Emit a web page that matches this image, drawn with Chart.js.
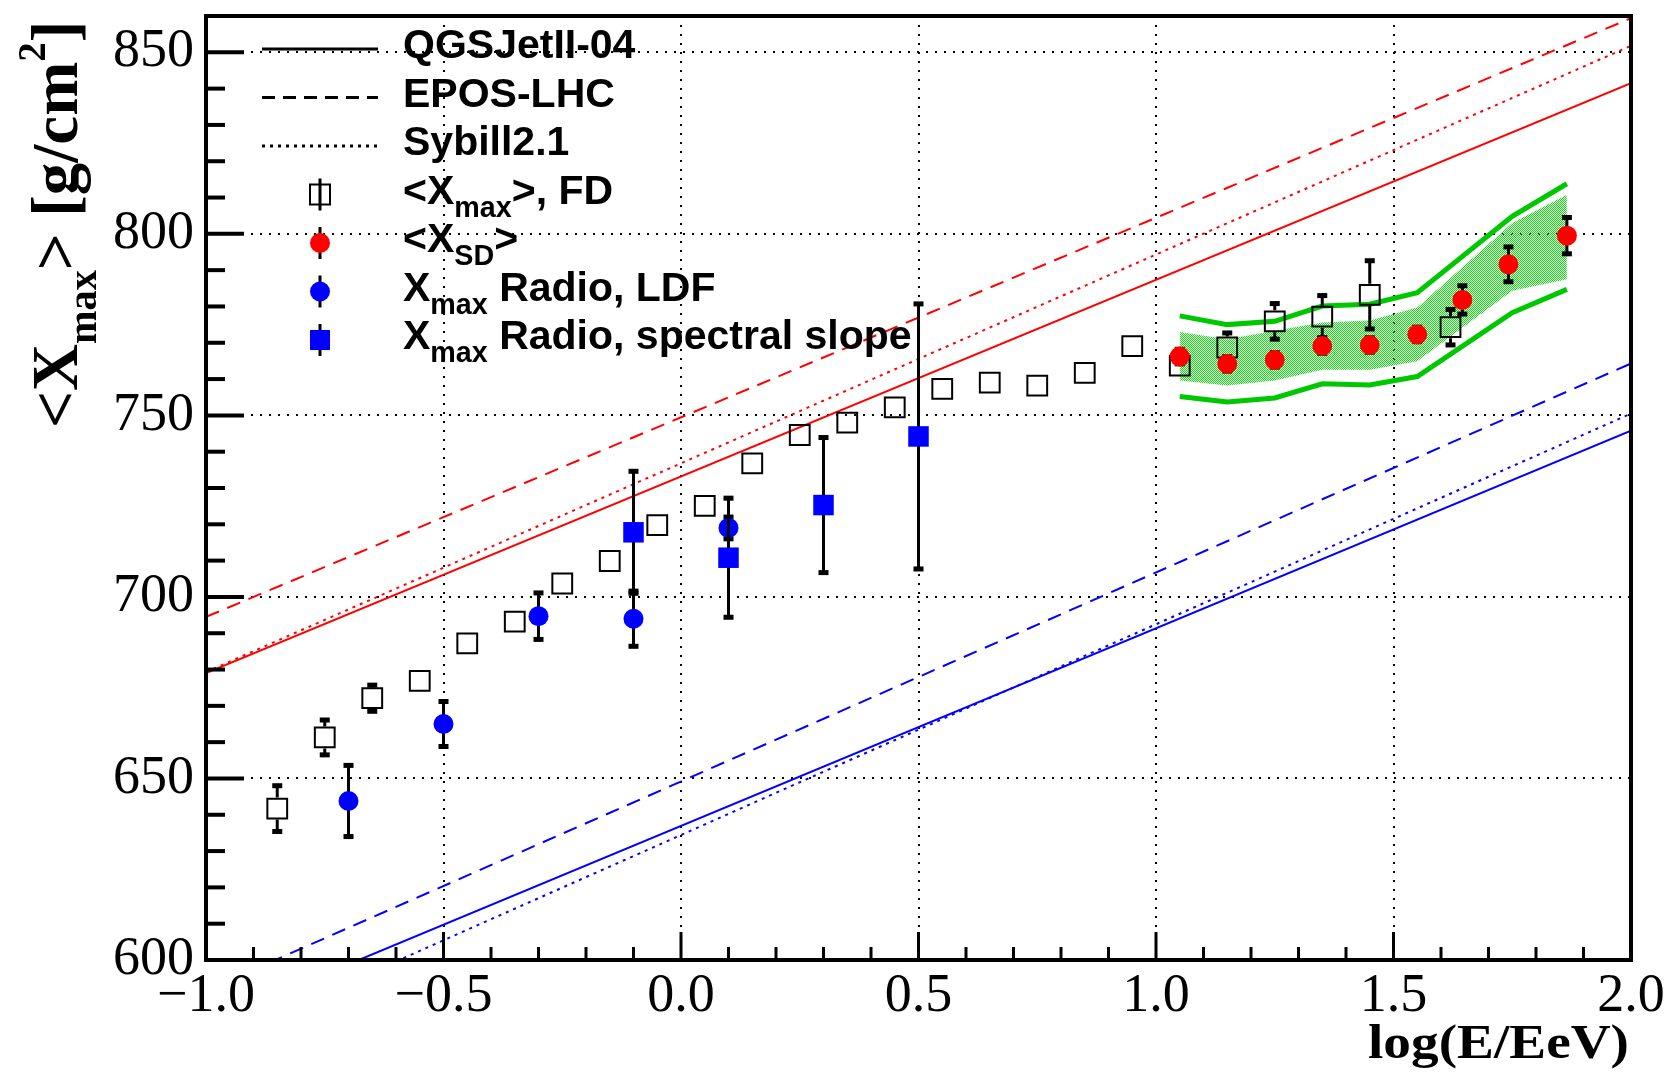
<!DOCTYPE html>
<html>
<head>
<meta charset="utf-8">
<title>Xmax vs log(E/EeV)</title>
<script src="https://cdn.jsdelivr.net/npm/chart.js@4.4.1/dist/chart.umd.min.js"></script>
<style>
  html, body { margin: 0; padding: 0; background: #fff; }
  #wrap { width: 1672px; height: 1076px; position: relative; }
</style>
</head>
<body>
<div id="wrap"><canvas id="chart"></canvas></div>
<script>
// <Xmax> FD (open squares)
const fdX = [-0.85, -0.75, -0.65, -0.55, -0.45, -0.35, -0.25, -0.15, -0.05, 0.05, 0.15, 0.25, 0.35, 0.45, 0.55, 0.65, 0.75, 0.85, 0.95, 1.05, 1.15, 1.25, 1.35, 1.45, 1.62];
const fdY = [641.7, 661.3, 672.1, 676.9, 687.2, 693.2, 703.7, 709.9, 719.8, 725.1, 736.8, 744.6, 748.0, 752.2, 757.3, 759.0, 758.2, 761.7, 769.1, 763.7, 768.7, 775.9, 777.2, 783.2, 774.3];
const fdErr = [6.3, 4.8, 3.6, 2, 2, 2, 2, 2, 2, 2, 2, 2, 2, 2, 2, 3, 2, 2.5, 3.2, 3, 4, 4.9, 5.8, 9.4, 4.9];

// <X_SD> (red dots)
const sdX = [1.05, 1.15, 1.25, 1.35, 1.45, 1.55, 1.645, 1.742, 1.865];
const sdY = [766.2, 764.2, 765.3, 769.1, 769.4, 772.3, 781.8, 791.6, 799.5];
const sdErr = [2, 2, 2, 2, 2, 2, 3.9, 4.8, 5.0];

// Xmax Radio, LDF (blue dots)
const ldfX = [-0.7, -0.5, -0.3, -0.1, 0.1];
const ldfY = [643.8, 665.0, 694.7, 694.0, 719.0];
const ldfErr = [9.8, 6.2, 6.4, 7.6, 3];

// Xmax Radio, spectral slope (blue squares)
const slopeX = [-0.1, 0.1, 0.3, 0.5];
const slopeY = [717.8, 710.8, 725.3, 744.2];
const slopeErr = [16.8, 16.4, 18.6, 36.5];

// SD systematic band (green lines) and hatched band
const bandX = [1.05, 1.15, 1.25, 1.35, 1.45, 1.55, 1.75, 1.865];
const sysUpper = [777.4, 775.0, 775.9, 780.1, 780.6, 783.8, 804.8, 813.8];
const sysLower = [755.2, 753.7, 754.8, 758.7, 758.4, 760.7, 778.3, 784.7];
const hatchUpper = [773.0, 771.0, 773.3, 775.6, 776.1, 779.7, 803.0, 810.8];
const hatchLower = [759.6, 758.2, 759.6, 762.6, 762.6, 764.9, 784.3, 787.5];

// model predictions, proton (red) and iron (blue), end points at x = -1 and x = 2
const modelX = [-1, 2];
const pQgs = [679.0, 841.5];
const pEpos = [694.5, 859.4];
const pSib = [679.3, 851.8];
const feQgs = [582.5, 745.8];
const feEpos = [591.6, 764.3];
const feSib = [576.4, 750.5];

const legendLabels = [
  [['QGSJetII-04', 'n']],
  [['EPOS-LHC', 'n']],
  [['Sybill2.1', 'n']],
  [['<X', 'n'], ['max', 'sub'], ['>, FD', 'n']],
  [['<X', 'n'], ['SD', 'sub'], ['>', 'n']],
  [['X', 'n'], ['max', 'sub'], [' Radio, LDF', 'n']],
  [['X', 'n'], ['max', 'sub'], [' Radio, spectral slope', 'n']]
];
const yTitle = [['<X', 'n'], ['max', 'sub'], ['> [g/cm', 'n'], ['2', 'sup'], [']', 'n']];
const xTitle = 'log(E/EeV)';

function pts(xs, ys) {
  return xs.map((x, i) => ({ x: x, y: ys[i] }));
}

const canvas = document.getElementById('chart');
const ctx = canvas.getContext('2d');

// fine checkered green fill, like ROOT fill style 3001
const hatch = document.createElement('canvas');
hatch.width = 2;
hatch.height = 2;
const hctx = hatch.getContext('2d');
hctx.fillStyle = '#00e600';
hctx.fillRect(0, 0, 1, 1);
hctx.fillRect(1, 1, 1, 1);
const hatchPattern = ctx.createPattern(hatch, 'repeat');

function modelLine(ys, color, dash, order) {
  return {
    type: 'line', data: pts(modelX, ys), borderColor: color, borderWidth: 2,
    borderDash: dash, pointRadius: 0, fill: false, order: order
  };
}

// draws text with sub/superscripts, returns width
function drawRich(c, segs, x, y, size, weight, family, subScale, subShift, supScale, supShift) {
  let cx = x;
  segs.forEach(([txt, mode]) => {
    let fs = size, dy = 0;
    if (mode === 'sub') { fs = size * subScale; dy = subShift; }
    if (mode === 'sup') { fs = size * supScale; dy = -supShift; }
    c.font = weight + ' ' + fs + 'px ' + family;
    c.fillText(txt, cx, y + dy);
    cx += c.measureText(txt).width;
  });
  return cx - x;
}

const errorBars = {
  id: 'errorBars',
  beforeDatasetDraw(chart, args) {
    const ds = chart.data.datasets[args.index];
    if (!ds.errY) return;
    const c = chart.ctx;
    const ys = chart.scales.y;
    const gap = ds.barGap || 0;
    c.save();
    c.strokeStyle = '#000';
    c.fillStyle = '#000';
    c.lineWidth = 3;
    args.meta.data.forEach((pt, i) => {
      const v = ds.data[i].y;
      const top = ys.getPixelForValue(v + ds.errY[i]);
      const bot = ys.getPixelForValue(v - ds.errY[i]);
      if (pt.y - top <= gap + 1) return;
      c.beginPath();
      c.moveTo(pt.x, pt.y - gap);
      c.lineTo(pt.x, top);
      c.moveTo(pt.x, pt.y + gap);
      c.lineTo(pt.x, bot);
      c.stroke();
      c.fillRect(pt.x - 5, top - 2.5, 10, 5);
      c.fillRect(pt.x - 5, bot - 2.5, 10, 5);
    });
    c.restore();
  }
};

const frameAndLegend = {
  id: 'frameAndLegend',
  beforeDraw(chart) {
    const c = chart.ctx;
    c.save();
    c.fillStyle = '#fff';
    c.fillRect(0, 0, chart.width, chart.height);
    c.restore();
  },
  afterDraw(chart) {
    const c = chart.ctx;
    const { left, right, top, bottom } = chart.chartArea;
    const xs = chart.scales.x, ys = chart.scales.y;
    c.save();
    c.strokeStyle = '#000';
    c.setLineDash([]);

    // inner ticks
    c.lineWidth = 4;
    ys.ticks.forEach(t => {
      const py = ys.getPixelForValue(t.value);
      const len = t.value % 50 === 0 ? 38 : 19;
      c.beginPath(); c.moveTo(left, py); c.lineTo(left + len, py); c.stroke();
    });
    c.lineWidth = 3;
    xs.ticks.forEach(t => {
      const px = xs.getPixelForValue(t.value);
      const len = Math.round(t.value * 10) % 5 === 0 ? 28 : 13;
      c.beginPath(); c.moveTo(px, bottom); c.lineTo(px, bottom - len); c.stroke();
    });

    // frame
    c.lineWidth = 4;
    c.strokeRect(left, top, right - left, bottom - top);

    // legend
    const symX = 320, lineX0 = 262, lineX1 = 378, textX = 403;
    const dashes = [[], [13, 8], [3, 5]];
    legendLabels.forEach((segs, i) => {
      const cy = 49 + i * 48.5;
      c.strokeStyle = '#000';
      c.fillStyle = '#000';
      if (i < 3) {
        c.lineWidth = 3;
        c.setLineDash(dashes[i]);
        c.beginPath(); c.moveTo(lineX0, cy); c.lineTo(lineX1, cy); c.stroke();
        c.setLineDash([]);
      } else {
        c.lineWidth = 3;
        c.beginPath(); c.moveTo(symX, cy - 16); c.lineTo(symX, cy + 16); c.stroke();
        if (i === 3) {
          c.lineWidth = 2;
          c.strokeRect(symX - 10, cy - 10, 20, 20);
        } else if (i === 6) {
          c.fillStyle = '#0000ff';
          c.fillRect(symX - 10, cy - 10, 20, 20);
        } else {
          c.fillStyle = i === 4 ? '#ff0000' : '#0000ff';
          c.beginPath(); c.arc(symX, cy, 10, 0, Math.PI * 2); c.fill();
        }
      }
      c.fillStyle = '#000';
      c.textAlign = 'left';
      c.textBaseline = 'alphabetic';
      drawRich(c, segs, textX, cy + 9, 41, 'bold', '"Liberation Sans", Arial, sans-serif', 0.7, 13, 0.7, 14);
    });

    // x title, stretched sideways like the ROOT font
    c.fillStyle = '#000';
    c.textAlign = 'left';
    c.textBaseline = 'alphabetic';
    c.font = 'bold 48px "Liberation Serif", "Times New Roman", serif';
    const tw = c.measureText(xTitle).width;
    const sx = 261 / tw;
    c.save();
    c.translate(1368, 1058);
    c.scale(sx, 1);
    c.fillText(xTitle, 0, 0);
    c.restore();

    // y title
    c.translate(77, 428);
    c.rotate(-Math.PI / 2);
    drawRich(c, yTitle, 0, 0, 65, 'bold', '"Liberation Serif", "Times New Roman", serif', 0.62, 19, 0.6, 32);
    c.restore();
  }
};

const chart = new Chart(ctx, {
  type: 'scatter',
  data: {
    datasets: [
      {
        label: 'Xmax Radio, spectral slope', data: pts(slopeX, slopeY), errY: slopeErr,
        pointStyle: 'rect', pointRadius: 14.5, pointBackgroundColor: '#0000ff', pointBorderWidth: 0, order: 1
      },
      {
        label: 'Xmax Radio, LDF', data: pts(ldfX, ldfY), errY: ldfErr,
        pointStyle: 'circle', pointRadius: 10, pointBackgroundColor: '#0000ff', pointBorderWidth: 0, order: 2
      },
      {
        label: '<X_SD>', data: pts(sdX, sdY), errY: sdErr,
        pointStyle: 'circle', pointRadius: 10, pointBackgroundColor: '#ff0000', pointBorderWidth: 0, order: 3
      },
      {
        label: '<Xmax>, FD', data: pts(fdX, fdY), errY: fdErr, barGap: 11,
        pointStyle: 'rect', pointRadius: 14, pointBackgroundColor: 'rgba(0,0,0,0)',
        pointBorderColor: '#000', pointBorderWidth: 2, order: 4
      },
      modelLine(pQgs, '#ff0000', [], 5),
      modelLine(pEpos, '#ff0000', [14, 9], 6),
      modelLine(pSib, '#ff0000', [3, 5], 7),
      modelLine(feQgs, '#0000ff', [], 8),
      modelLine(feEpos, '#0000ff', [14, 9], 9),
      modelLine(feSib, '#0000ff', [3, 5], 10),
      {
        type: 'line', data: pts(bandX, sysUpper), borderColor: '#00c800', borderWidth: 5,
        pointRadius: 0, fill: false, order: 11
      },
      {
        type: 'line', data: pts(bandX, sysLower), borderColor: '#00c800', borderWidth: 5,
        pointRadius: 0, fill: false, order: 12
      },
      {
        type: 'line', data: pts(bandX, hatchLower), borderWidth: 0, borderColor: 'rgba(0,0,0,0)',
        pointRadius: 0, fill: false, order: 14
      },
      {
        type: 'line', data: pts(bandX, hatchUpper), borderWidth: 0, borderColor: 'rgba(0,0,0,0)',
        backgroundColor: hatchPattern, pointRadius: 0, fill: '-1', order: 13
      }
    ]
  },
  options: {
    responsive: true,
    maintainAspectRatio: false,
    animation: false,
    devicePixelRatio: 1,
    events: [],
    layout: { padding: { left: 0, right: 41, top: 14, bottom: 0 } },
    plugins: {
      legend: { display: false },
      tooltip: { enabled: false }
    },
    scales: {
      x: {
        type: 'linear', min: -1, max: 2,
        afterFit(scale) {
          scale.height = 116;
          scale.paddingLeft = 0;
          scale.paddingRight = 0;
        },
        ticks: {
          stepSize: 0.1, autoSkip: false, maxRotation: 0, padding: 4, color: '#000',
          font: { family: '"Liberation Serif", "Times New Roman", serif', size: 54 },
          callback(v) {
            const k = Math.round(v * 10);
            if (k % 5 !== 0) return '';
            const s = (Math.abs(k) / 10).toFixed(1);
            return k < 0 ? '\u2212' + s : s;
          }
        },
        grid: {
          drawTicks: false, lineWidth: 2,
          color(c) {
            const k = Math.round(c.tick.value * 10);
            return (k % 5 === 0 && k !== -10 && k !== 20) ? '#000' : 'rgba(0,0,0,0)';
          }
        },
        border: { display: false, dash: [2, 7] }
      },
      y: {
        type: 'linear', min: 600, max: 860,
        afterFit(scale) {
          scale.width = 206;
          scale.paddingTop = 0;
          scale.paddingBottom = 0;
        },
        ticks: {
          stepSize: 10, autoSkip: false, padding: 12, color: '#000',
          font: { family: '"Liberation Serif", "Times New Roman", serif', size: 54 },
          callback(v) { return v % 50 === 0 ? String(v) : ''; }
        },
        grid: {
          drawTicks: false, lineWidth: 2,
          color(c) {
            const v = c.tick.value;
            return (v % 50 === 0 && v !== 600) ? '#000' : 'rgba(0,0,0,0)';
          }
        },
        border: { display: false, dash: [2, 7] }
      }
    }
  },
  plugins: [errorBars, frameAndLegend]
});
</script>
</body>
</html>
